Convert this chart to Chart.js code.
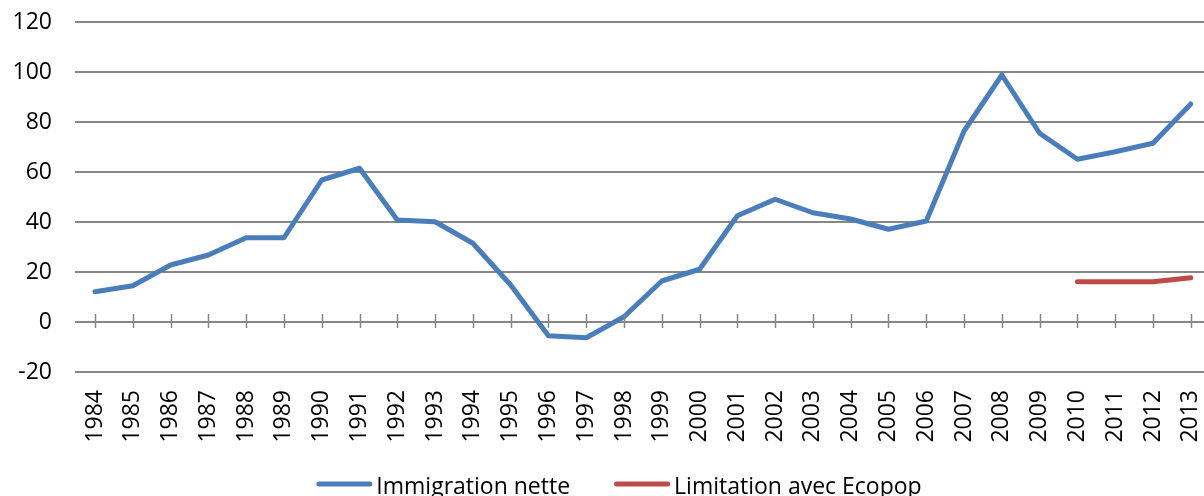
<!DOCTYPE html>
<html>
<head>
<meta charset="utf-8">
<script src="https://cdn.jsdelivr.net/npm/chart.js@4/dist/chart.umd.min.js"></script>
<style>
    html, body { margin: 0; padding: 0; background: #fff; }
    #wrap { width: 1204px; height: 496px; position: relative; }
</style>
</head>
<body>
<div id="wrap"><canvas id="immChart" width="1204" height="496"></canvas></div>
<script>
const years = [1984, 1985, 1986, 1987, 1988, 1989, 1990, 1991, 1992, 1993,
    1994, 1995, 1996, 1997, 1998, 1999, 2000, 2001, 2002, 2003,
    2004, 2005, 2006, 2007, 2008, 2009, 2010, 2011, 2012, 2013];
const immigrationNette = [12.1, 14.5, 22.8, 26.8, 33.7, 33.7, 56.8, 61.5, 40.8, 40.1,
    31.5, 14.8, -5.5, -6.3, 2.1, 16.4, 21.1, 42.5, 49.1, 43.7,
    41.2, 37.1, 40.4, 76.4, 98.8, 75.5, 65.1, 68.1, 71.5, 87.2];
const limitationEcopop = [null, null, null, null, null, null, null, null, null, null,
    null, null, null, null, null, null, null, null, null, null,
    null, null, null, null, null, null, 16.1, 16.1, 16.1, 17.7];
const yTicks = [-20, 0, 20, 40, 60, 80, 100, 120];

const FONT = "'Open Sans', sans-serif";
const gridColor = '#878787';

function toPoints(values) {
    const pts = [];
    values.forEach(function(v, i) {
        if (v !== null) pts.push({x: years[i], y: v});
    });
    return pts;
}

// axis line ticks crossing the zero line, and the legend at the bottom
const axisAndLegend = {
    id: 'axisAndLegend',
    afterDatasetsDraw(chart) {
        const ctx = chart.ctx;
        const xs = chart.scales.x, ys = chart.scales.y;
        const y0 = ys.getPixelForValue(0);
        ctx.save();
        ctx.strokeStyle = gridColor;
        ctx.lineWidth = 1.5;
        years.forEach(function(yr) {
            const px = Math.round(xs.getPixelForValue(yr)) + 0.5;
            ctx.beginPath();
            ctx.moveTo(px, y0 - 8);
            ctx.lineTo(px, y0 + 6);
            ctx.stroke();
        });
        ctx.restore();
    },
    afterDraw(chart) {
        const ctx = chart.ctx;
        const sets = chart.data.datasets;
        const lineLen = 56, gapText = 4, gapItems = 44;
        ctx.save();
        ctx.font = '23px ' + FONT;
        let total = 0;
        sets.forEach(function(ds, i) {
            total += lineLen + gapText + ctx.measureText(ds.label).width;
            if (i < sets.length - 1) total += gapItems;
        });
        let x = 619 - total / 2;
        const yLine = 484, yText = 494;
        sets.forEach(function(ds) {
            ctx.strokeStyle = ds.borderColor;
            ctx.lineWidth = 5;
            ctx.lineCap = 'round';
            ctx.beginPath();
            ctx.moveTo(x + 2.5, yLine);
            ctx.lineTo(x + lineLen - 2.5, yLine);
            ctx.stroke();
            x += lineLen + gapText;
            ctx.fillStyle = '#000';
            ctx.textBaseline = 'alphabetic';
            ctx.fillText(ds.label, x, yText);
            x += ctx.measureText(ds.label).width + gapItems;
        });
        ctx.restore();
    }
};

new Chart(document.getElementById('immChart'), {
    type: 'line',
    data: {
        datasets: [
            {
                label: 'Immigration nette',
                data: toPoints(immigrationNette),
                borderColor: '#4a7ebb',
                borderWidth: 5,
                borderCapStyle: 'round',
                borderJoinStyle: 'round',
                pointRadius: 0,
                fill: false
            },
            {
                label: 'Limitation avec Ecopop',
                data: toPoints(limitationEcopop),
                borderColor: '#be4b48',
                borderWidth: 5,
                borderCapStyle: 'round',
                borderJoinStyle: 'round',
                pointRadius: 0,
                fill: false
            }
        ]
    },
    options: {
        responsive: false,
        animation: false,
        devicePixelRatio: 1,
        layout: {padding: {top: 22, right: 0, left: 0, bottom: 0}},
        plugins: {
            legend: {display: false},
            tooltip: {enabled: false}
        },
        scales: {
            x: {
                type: 'linear',
                min: 1983.47,
                max: 2013.35,
                afterBuildTicks: function(s) {
                    s.ticks = years.map(function(v) { return {value: v}; });
                },
                afterFit: function(s) {
                    s.height = 124;
                    s.paddingLeft = 0;
                    s.paddingRight = 0;
                    s.paddingTop = 0;
                    s.paddingBottom = 0;
                },
                grid: {display: false, drawTicks: false},
                border: {display: false},
                ticks: {
                    autoSkip: false,
                    minRotation: 90,
                    maxRotation: 90,
                    padding: 18,
                    color: '#000',
                    font: {family: FONT, size: 23},
                    callback: function(v) { return String(v); }
                }
            },
            y: {
                min: -20,
                max: 120,
                afterBuildTicks: function(s) {
                    s.ticks = yTicks.map(function(v) { return {value: v}; });
                },
                afterFit: function(s) {
                    s.width = 75;
                    s.paddingTop = 0;
                    s.paddingBottom = 0;
                },
                grid: {color: gridColor, lineWidth: 2, drawTicks: false},
                border: {display: false},
                ticks: {
                    padding: 23,
                    color: '#000',
                    font: {family: FONT, size: 23}
                }
            }
        }
    },
    plugins: [axisAndLegend]
});
</script>
</body>
</html>
